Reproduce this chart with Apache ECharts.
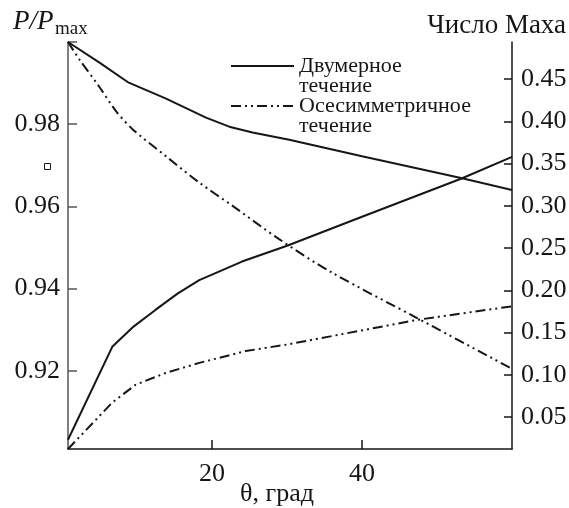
<!DOCTYPE html>
<html><head><meta charset="utf-8">
<script src="https://cdn.jsdelivr.net/npm/echarts@6/dist/echarts.min.js"></script>
<style>html,body{margin:0;padding:0;background:#fff}#c{width:569px;height:508px}</style>
</head><body><div id="c"></div>
<script>
const FONT = '"Liberation Serif", "Times New Roman", serif';

// Series names (legend)
const name2D = 'Двумерное течение';
const nameAxi = 'Осесимметричное течение';

// P/Pmax, two-dimensional flow (left axis)
const p2dTheta = [0.8, 5, 8.9, 13.8, 19.2, 22.3, 25.4, 30.3, 40, 53.2, 60];
const p2dVals  = [1.0, 0.9950, 0.9901, 0.9863, 0.9816, 0.9794, 0.9780, 0.9762, 0.9722, 0.9669, 0.9640];

// P/Pmax, axisymmetric flow (left axis)
const pAxiTheta = [0.8, 2.3, 4.9, 7.2, 9.4, 13.8, 18.3, 22.7, 28.9, 35.9, 47.4, 60];
const pAxiVals  = [1.0, 0.9958, 0.9893, 0.9832, 0.9788, 0.9723, 0.9658, 0.9602, 0.9521, 0.9440, 0.9328, 0.9205];

// Mach number, two-dimensional flow (right axis)
const m2dTheta = [0.8, 6.7, 9.4, 12.5, 15.4, 18.3, 24.0, 30.1, 40, 53.2, 60];
const m2dVals  = [0.023, 0.133, 0.156, 0.177, 0.196, 0.212, 0.234, 0.253, 0.287, 0.332, 0.358];

// Mach number, axisymmetric flow (right axis)
const mAxiTheta = [0.8, 6.7, 9.8, 13.8, 18.3, 24.5, 30.2, 47.4, 60];
const mAxiVals  = [0.012, 0.067, 0.088, 0.102, 0.114, 0.128, 0.136, 0.165, 0.181];

// Ticks and axis titles
const xTicks = [20, 40];
const leftTicks = [0.92, 0.94, 0.96, 0.98, 1.0];
const leftLabels = [0.92, 0.94, 0.96, 0.98];
const rightTicks = [0.05, 0.10, 0.15, 0.20, 0.25, 0.30, 0.35, 0.40, 0.45];
const xTitle = 'θ, град';
const rightTitle = 'Число Маха';

const zip = (a, b) => a.map((v, i) => [v, b[i]]);
const DASHDOT = [10, 4, 2, 4, 2, 4];
const INK = '#161616';

const chart = echarts.init(document.getElementById('c'), null, {renderer: 'canvas'});
const axisLineStyle = {color: INK, width: 1.5};
const labelStyle = {fontFamily: FONT, fontSize: 26, color: INK};

chart.setOption({
  animation: false,
  backgroundColor: '#fff',
  grid: {left: 68, right: 57, top: 42, bottom: 59, outerBoundsMode: 'none', containLabel: false},
  legend: {
    data: [name2D, nameAxi],
    orient: 'vertical', left: 230, top: 35, padding: 0,
    itemWidth: 63, itemHeight: 10, itemGap: -22,
    selectedMode: false,
    itemStyle: {opacity: 0},
    formatter: n => '\u00a0\n' + n.replace(' ', '\n'),
    textStyle: {fontFamily: FONT, fontSize: 22, lineHeight: 20, color: INK}
  },
  xAxis: {
    type: 'value', min: 0.8, max: 60,
    axisLine: {show: true, lineStyle: axisLineStyle},
    axisTick: {show: true, inside: true, length: 9, customValues: xTicks, lineStyle: axisLineStyle},
    axisLabel: {customValues: xTicks, margin: 12, ...labelStyle},
    splitLine: {show: false}
  },
  yAxis: [{
    type: 'value', position: 'left', min: 0.901, max: 1.0,
    axisLine: {show: true, lineStyle: {color: '#555', width: 1.5}},
    axisTick: {show: true, inside: true, length: 9, customValues: leftTicks, lineStyle: {color: '#555', width: 1.5}},
    axisLabel: {customValues: leftLabels, margin: 8, formatter: v => v.toFixed(2), ...labelStyle},
    splitLine: {show: false}
  }, {
    type: 'value', position: 'right', min: 0.012, max: 0.494,
    axisLine: {show: true, lineStyle: axisLineStyle},
    axisTick: {show: true, inside: true, length: 8, customValues: rightTicks, lineStyle: axisLineStyle},
    axisLabel: {customValues: rightTicks, margin: 9, formatter: v => v.toFixed(2), ...labelStyle},
    splitLine: {show: false}
  }],
  series: [
    {name: name2D, type: 'line', yAxisIndex: 0, data: zip(p2dTheta, p2dVals), symbol: 'none',
     lineStyle: {color: INK, width: 2, type: 'solid'}, itemStyle: {color: INK}},
    {name: nameAxi, type: 'line', yAxisIndex: 0, data: zip(pAxiTheta, pAxiVals), symbol: 'none', smooth: 0.3,
     lineStyle: {color: INK, width: 2, type: DASHDOT}, itemStyle: {color: INK}},
    {name: name2D, type: 'line', yAxisIndex: 1, data: zip(m2dTheta, m2dVals), symbol: 'none',
     lineStyle: {color: INK, width: 2, type: 'solid'}, itemStyle: {color: INK}},
    {name: nameAxi, type: 'line', yAxisIndex: 1, data: zip(mAxiTheta, mAxiVals), symbol: 'none',
     lineStyle: {color: INK, width: 2, type: DASHDOT}, itemStyle: {color: INK}}
  ],
  graphic: [
    {type: 'text', left: 13, top: 8, style: {text: 'P/P', font: 'italic 27px ' + FONT, fill: INK}},
    {type: 'text', left: 55, top: 20, style: {text: 'max', font: '19px ' + FONT, fill: INK}},
    {type: 'text', right: 3, top: 12, style: {text: rightTitle, font: '27px ' + FONT, fill: INK}},
    {type: 'text', x: 277, y: 494, style: {text: xTitle, font: '26px ' + FONT, fill: INK, align: 'center', verticalAlign: 'middle'}},
    {type: 'rect', shape: {x: 44.5, y: 163.5, width: 6, height: 6}, style: {fill: 'none', stroke: INK, lineWidth: 1}}
  ]
});
</script>
</body></html>
